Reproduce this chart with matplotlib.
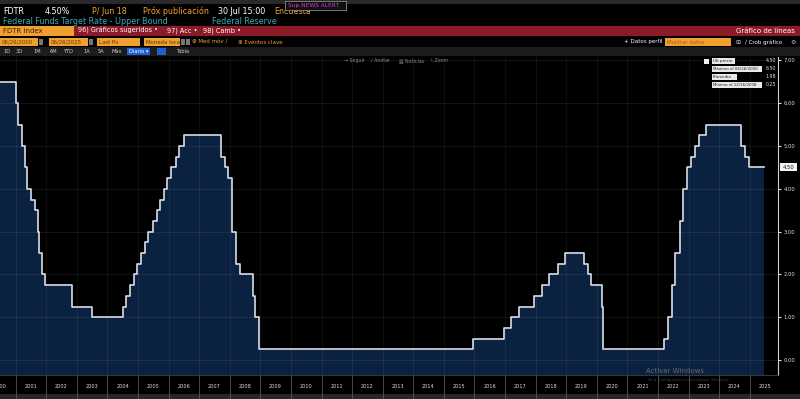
import numpy as np
import pandas as pd
import matplotlib
matplotlib.use('Agg')
import matplotlib.pyplot as plt
from matplotlib.patches import Rectangle

plt.rcParams['font.family'] = ['DejaVu Sans']

# Fed funds target, upper bound (change dates -> new level)
change_dates = ['2000-06-26', '2001-01-03', '2001-01-31', '2001-03-20', '2001-04-18',
                '2001-05-15', '2001-06-27', '2001-08-21', '2001-09-17', '2001-10-02',
                '2001-11-06', '2001-12-11', '2002-11-06', '2003-06-25', '2004-06-30',
                '2004-08-10', '2004-09-21', '2004-11-10', '2004-12-14', '2005-02-02',
                '2005-03-22', '2005-05-03', '2005-06-30', '2005-08-09', '2005-09-20',
                '2005-11-01', '2005-12-13', '2006-01-31', '2006-03-28', '2006-05-10',
                '2006-06-29', '2007-09-18', '2007-10-31', '2007-12-11', '2008-01-22',
                '2008-01-30', '2008-03-18', '2008-04-30', '2008-10-08', '2008-10-29',
                '2008-12-16', '2015-12-16', '2016-12-14', '2017-03-15', '2017-06-14',
                '2017-12-13', '2018-03-21', '2018-06-13', '2018-09-26', '2018-12-19',
                '2019-07-31', '2019-09-18', '2019-10-30', '2020-03-03', '2020-03-15',
                '2022-03-16', '2022-05-04', '2022-06-15', '2022-07-27', '2022-09-21',
                '2022-11-02', '2022-12-14', '2023-02-01', '2023-03-22', '2023-05-03',
                '2023-07-26', '2024-09-18', '2024-11-07', '2024-12-18', '2025-06-26']
rates = [6.50, 6.00, 5.50, 5.00, 4.50, 4.00, 3.75, 3.50, 3.00, 2.50,
         2.00, 1.75, 1.25, 1.00, 1.25, 1.50, 1.75, 2.00, 2.25, 2.50,
         2.75, 3.00, 3.25, 3.50, 3.75, 4.00, 4.25, 4.50, 4.75, 5.00,
         5.25, 4.75, 4.50, 4.25, 3.50, 3.00, 2.25, 2.00, 1.50, 1.00,
         0.25, 0.50, 0.75, 1.00, 1.25, 1.50, 1.75, 2.00, 2.25, 2.50,
         2.25, 2.00, 1.75, 1.25, 0.25, 0.50, 1.00, 1.75, 2.50, 3.25,
         4.00, 4.50, 4.75, 5.00, 5.25, 5.50, 5.00, 4.75, 4.50, 4.50]
years = list(range(2000, 2026))
y_ticks = [0, 1, 2, 3, 4, 5, 6, 7]
legend_rows = [('Últ precio', '4.50'), ('Máximo el 06/26/2000', '6.50'),
               ('Promedio', '1.98'), ('Mínimo el 12/16/2008', '0.25')]

W, H = 800, 399
fig = plt.figure(figsize=(W / 100, H / 100), dpi=100, facecolor='black')

# background overlay in pixel coords
bg = fig.add_axes([0, 0, 1, 1], zorder=0)
bg.set_xlim(0, W); bg.set_ylim(H, 0); bg.axis('off')

orange = '#f0a030'
teal = '#3fa9b5'

def box(ax, x0, y0, x1, y1, fc, ec='none', lw=0.6, z=1):
    ax.add_patch(Rectangle((x0, y0), x1 - x0, y1 - y0, facecolor=fc, edgecolor=ec, lw=lw, zorder=z))

def txt(ax, x, y, s, c='white', fs=5.2, ha='left', **kw):
    ax.text(x, y, s, color=c, fontsize=fs, ha=ha, va='center', **kw)

# top strip
box(bg, 0, 0, W, 4, '#2a2a2a')
# row 2
txt(bg, 3, 11, 'FDTR', fs=5.8)
txt(bg, 45, 11, '4.50%', fs=5.8)
txt(bg, 92, 11, 'P/ Jun 18', c=orange, fs=5.8)
txt(bg, 143, 11, 'Próx publicación', c=orange, fs=5.8)
txt(bg, 218, 11, '30 Jul 15:00', fs=5.8)
txt(bg, 274, 11, 'Encuesta', c=orange, fs=5.8)
box(bg, 285, 1, 346, 10, '#101010', ec='#888888', z=3)
txt(bg, 288, 5.5, 'Sup.NEWS ALERT', c='#d040d0', fs=4.2, zorder=4)
# row 3
txt(bg, 3, 21.5, 'Federal Funds Target Rate - Upper Bound', c=teal, fs=5.8)
txt(bg, 212, 21.5, 'Federal Reserve', c=teal, fs=5.8)
# row 4: red bar
box(bg, 0, 26, W, 36, '#8c1a28')
box(bg, 0, 26, 74, 36, orange, z=2)
txt(bg, 3, 31, 'FDTR Index', c='#3a2000', fs=5.0, zorder=3)
txt(bg, 78, 31, '96) Gráficos sugeridos •', fs=4.7)
txt(bg, 167, 31, '97) Acc •', fs=4.7)
txt(bg, 203, 31, '98) Camb •', fs=4.7)
txt(bg, 795, 31, 'Gráfico de líneas', fs=5.0, ha='right')
# row 5: date / field boxes
for x0, x1, s in [(0, 38, '06/26/2000'), (49, 88, '06/26/2025'),
                  (97, 140, 'Last Px'), (144, 180, 'Moneda local')]:
    box(bg, x0, 38, x1, 46, orange, z=2)
    txt(bg, x0 + 2, 42, s, c='#5a3a00', fs=3.9, zorder=3)
for xi in [39, 89, 181, 186]:
    box(bg, xi, 39, xi + 3.5, 45, '#777777', z=2)
txt(bg, 192, 42, '⊕ Med móv ∕', c=orange, fs=4.0)
txt(bg, 238, 42, '⊕ Eventos clave', c=orange, fs=4.0)
txt(bg, 624, 42, '+ Datos perfil', fs=4.0)
box(bg, 665, 38, 731, 46, orange, z=2)
txt(bg, 667, 42, 'Mostrar datos', c='#a06010', fs=3.9, zorder=3)
txt(bg, 735, 42, '⊞', c='#cccccc', fs=4.2)
txt(bg, 745, 42, '∕ Crob gráfico', fs=4.0)
txt(bg, 790, 42, '⚙', c='#cccccc', fs=4.4)
# row 6: range buttons
box(bg, 0, 47, W, 56, '#1c1c1c')
for x, s in [(3, '1D'), (16, '3D'), (33, '1M'), (50, '6M'), (63, 'YTD'),
             (83, '1A'), (98, '5A'), (112, 'Máx')]:
    txt(bg, x, 51.5, s, c='#cfcfcf', fs=3.7)
box(bg, 127, 48, 150, 55, '#1f5fd0', z=2)
txt(bg, 129, 51.5, 'Diario ▾', fs=3.7, zorder=3)
box(bg, 157, 48, 166, 55, '#1f5fd0', z=2)
txt(bg, 176, 51.5, 'Tabla', c='#cfcfcf', fs=3.7)
# bottom strip
box(bg, 0, 394, W, H, '#262626')

# main plot
x0, x1, y_top, y_bot = 0, 778, 57, 375
ax = fig.add_axes([x0 / W, 1 - y_bot / H, (x1 - x0) / W, (y_bot - y_top) / H], zorder=1)
ax.set_facecolor('black')

d = pd.to_datetime(change_dates)
ymin, ymax = -0.35, 7.08
ax.fill_between(d, rates, ymin, step='post', color='#0b2140', zorder=1, lw=0)
ax.step(d, rates, where='post', color='#d8dde6', lw=1.2, zorder=3)

ax.yaxis.tick_right()
ax.set_yticks(y_ticks)
ax.set_yticklabels([f'{v:.2f}' for v in y_ticks])
ax.tick_params(axis='y', colors='#dddddd', labelsize=3.8, length=2.5, width=0.8, pad=1.5)

year_starts = pd.to_datetime([f'{y}-01-01' for y in years])
mids = pd.to_datetime([f'{y}-07-01' for y in years])
ax.set_xticks(year_starts)
ax.set_xticklabels([])
ax.set_xticks(mids, minor=True)
ax.set_xticklabels([str(y) for y in years], minor=True)
ax.tick_params(axis='x', which='major', colors='#555555', length=19, width=0.6, direction='out')
ax.tick_params(axis='x', which='minor', colors='#dddddd', labelsize=3.6, length=0, pad=6.5)

for t in year_starts:
    ax.axvline(t, color='#ffffff', alpha=0.07, lw=0.6, zorder=2)
for v in y_ticks:
    ax.axhline(v, color='#ffffff', alpha=0.09, lw=0.6, zorder=2)

# limits last, after ticks (set_xticks widens the view)
ax.set_ylim(ymin, ymax)
ax.set_xlim(pd.Timestamp('2000-06-26'), pd.Timestamp('2025-12-05'))

for s in ['top', 'left']:
    ax.spines[s].set_visible(False)
ax.spines['right'].set_color('#cfcfcf')
ax.spines['right'].set_linewidth(0.8)
ax.spines['bottom'].set_color('#444444')
ax.spines['bottom'].set_linewidth(0.6)

# foreground overlay for legend and labels
fg = fig.add_axes([0, 0, 1, 1], zorder=5)
fg.set_xlim(0, W); fg.set_ylim(H, 0); fg.axis('off')
fg.patch.set_alpha(0)

for x, s in [(344, '⇢ Seguir'), (371, '∕ Anotar'), (399, '▤ Noticias'), (430, '∖ Zoom')]:
    txt(fg, x, 60.5, s, c='#8a8a8a', fs=3.4)

ly = [61, 69, 77, 85]
box_ends = [735, 762, 737, 762]
box(fg, 704, 58.5, 709, 63.5, '#f0f0f0', z=2)
for yy, xe, (lab, val) in zip(ly, box_ends, legend_rows):
    box(fg, 712, yy - 3.3, xe, yy + 3.3, '#e8e8e8', z=2)
    txt(fg, 713, yy, lab, c='#222222', fs=2.9, zorder=3)
    txt(fg, 776, yy, val, c='#dddddd', fs=3.4, ha='right', zorder=3)

# last value tag on the axis
yv = 360 - 4.5 * 42.8
box(fg, 780, yv - 4, 797, yv + 4, '#f4f4f4', z=2)
txt(fg, 788.5, yv, '4.50', c='#111111', fs=3.8, ha='center', zorder=3)

txt(fg, 646, 371, 'Activar Windows', c='#9a9a9a', fs=5.0, alpha=0.6)
txt(fg, 648, 379.5, 'Ve a Configuración para activar Windows.', c='#9a9a9a', fs=2.8, alpha=0.4)

fig.savefig('out.png', dpi=100, facecolor='black')
